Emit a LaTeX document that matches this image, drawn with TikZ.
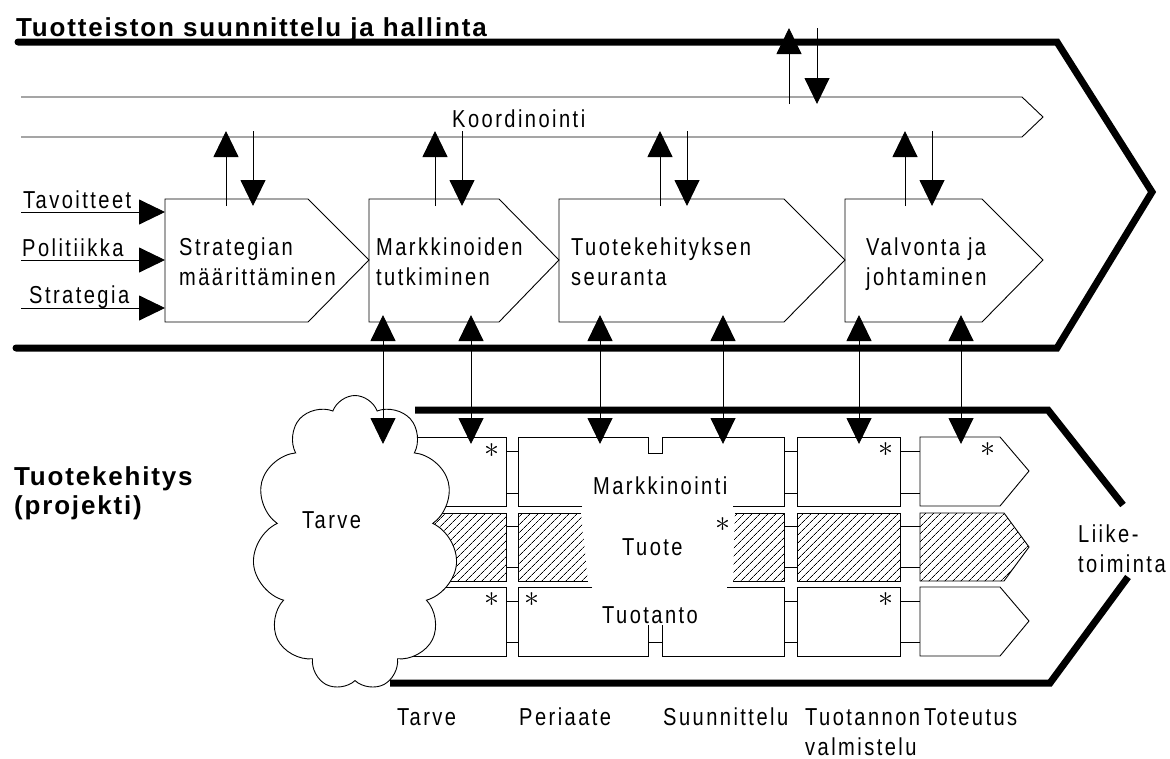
\documentclass[tikz,border=0pt]{standalone}
\usepackage{fontspec}
\setmainfont{Liberation Sans}
\newfontfamily\bodyfamily[LetterSpace=10,FakeStretch=0.82]{Liberation Sans}
\newfontfamily\headfamily[LetterSpace=7]{Liberation Sans}
\usetikzlibrary{arrows.meta,patterns.meta,shapes.symbols}
\newcommand\mytxt{\bodyfamily\fontsize{24.5}{30}\selectfont}
\newcommand\myhead{\headfamily\bfseries\fontsize{26}{29}\selectfont}
\tikzset{
  bigtri/.tip={Triangle[length=26pt,width=25pt]},
  thinl/.style={line width=0.9pt},
  outl/.style={line width=7pt,line join=miter},
  lab/.style={font=\mytxt,inner sep=0pt,anchor=base west},
  mlab/.style={font=\mytxt,inner sep=0pt,anchor=base west,align=left},
  head/.style={font=\myhead,inner sep=0pt,anchor=base west,align=left},
  hatch/.style={pattern={Lines[angle=45,distance=5.4pt,line width=0.8pt]}},
  star/.style={inner sep=0pt},
  arr/.style={thinl,-bigtri},
  darr/.style={thinl,bigtri-bigtri}
}
\begin{document}
\begin{tikzpicture}[x=1pt,y=-1pt]
\useasboundingbox (0,0) rectangle (1170,758);

% ---------- upper section ----------
\node[head] (title) at (16,36) {Tuotteiston suunnittelu ja hallinta};
\draw[outl,line cap=round] (18,42) -- (1057,42) -- (1152,192) -- (1057,348) -- (16,348);

% coordination band
\draw[thinl] (21,97) -- (1022,97) -- (1043,117) -- (1022,137) -- (21,137);
\node[lab] (koord) at (452,127) {Koordinointi};

% process boxes
\draw[thinl] (165,199) -- (308,199) -- (369,260) -- (308,322) -- (165,322) -- cycle;
\draw[thinl] (369,199) -- (499,199) -- (559,260) -- (499,322) -- (369,322) -- cycle;
\draw[thinl] (559,199) -- (784,199) -- (845,260) -- (784,322) -- (559,322) -- cycle;
\draw[thinl] (845,199) -- (982,199) -- (1043,260) -- (982,322) -- (845,322) -- cycle;
\node[mlab] (b1) at (179,285) {Strategian\\määrittäminen};
\node[mlab] (b2) at (376,285) {Markkinoiden\\tutkiminen};
\node[mlab] (b3) at (571,285) {Tuotekehityksen\\seuranta};
\node[mlab] (b4) at (866,285) {Valvonta ja\\johtaminen};

% inputs
\coordinate (in1) at (165,212); \coordinate (in2) at (165,260); \coordinate (in3) at (165,308);
\coordinate (s1) at (21,212); \coordinate (s2) at (21,260); \coordinate (s3) at (21,308);
\draw[arr] (s1) -- (in1);
\draw[arr] (s2) -- (in2);
\draw[arr] (s3) -- (in3);
\node[lab] (tav) at (23,208) {Tavoitteet};
\node[lab] (pol) at (22,256) {Politiikka};
\node[lab] (str) at (29,303) {Strategia};

% band <-> boxes arrows
\foreach \x [count=\i] in {226,435,660,905}{
  \coordinate (u\i a) at (\x,206); \coordinate (u\i b) at (\x,131);
  \coordinate (d\i a) at (\x+27,131); \coordinate (d\i b) at (\x+27,206);
  \draw[arr] (u\i a) -- (u\i b);
  \draw[arr] (d\i a) -- (d\i b);
}
% outside <-> band
\coordinate (tu1) at (789,104); \coordinate (tu2) at (789,28);
\coordinate (td1) at (817,28); \coordinate (td2) at (817,104);
\draw[arr] (tu1) -- (tu2);
\draw[arr] (td1) -- (td2);

% ---------- lower section ----------
\node[head] (tk) at (14,514) {Tuotekehitys\\(projekti)};
\draw[outl] (415,410) -- (1048,410) -- (1123,505);
\draw[outl] (1128,577) -- (1050,683) -- (390,683);
\node[mlab] (liike) at (1078,572) {Liike-\\toiminta};

% column 1
\draw[thinl,fill=white] (380,437) rectangle (506,506);
\draw[thinl,hatch] (380,513) rectangle (506,581);
\draw[thinl,fill=white] (380,587) rectangle (506,656);

% merged middle
\draw[thinl] (582,506) -- (518,506) -- (518,437) -- (648,437) -- (648,453) -- (662,453) -- (662,437) -- (784,437) -- (784,506) -- (733,506);
\fill[hatch] (518,513) -- (581,513) -- (588,581) -- (518,581) -- cycle;
\draw[thinl] (581,513) -- (518,513) -- (518,581) -- (588,581);
\fill[hatch] (735,513) -- (784,513) -- (784,581) -- (733,581) -- cycle;
\draw[thinl] (735,513) -- (784,513) -- (784,581) -- (733,581);
\draw[thinl] (592,587) -- (518,587) -- (518,656) -- (648,656) -- (648,625);
\draw[thinl] (662,625) -- (662,656) -- (784,656) -- (784,587) -- (727,587);
\draw[thinl] (648,642) -- (662,642);
\node[lab] (mark) at (593,494) {Markkinointi};
\node[lab] (tuote) at (622,555) {Tuote};
\node[lab] (tuot) at (602,623) {Tuotanto};

% column 4
\draw[thinl] (797,437) rectangle (900,506);
\draw[thinl,hatch] (797,513) rectangle (900,581);
\draw[thinl] (797,587) rectangle (900,656);
% column 5
\draw[thinl] (920,437) -- (1000,437) -- (1029,471) -- (1000,506) -- (920,506) -- cycle;
\draw[thinl,hatch] (920,513) -- (1004,513) -- (1029,547) -- (1004,581) -- (920,581) -- cycle;
\draw[thinl] (920,587) -- (1000,587) -- (1029,621) -- (1000,656) -- (920,656) -- cycle;

% stubs
\foreach \y in {451,493,526,567,601,642}{
  \draw[thinl] (506,\y) -- (518,\y);
  \draw[thinl] (784,\y) -- (797,\y);
  \draw[thinl] (900,\y) -- (920,\y);
}

% asterisks
\foreach \p in {(492,451),(492,600),(532,600),(723,525),(886,450),(988,450),(886,600)}{
  \node[star] at \p {\scalebox{3}{$\ast$}};
}

% cloud
\node[cloud,draw,fill=white,thinl,cloud puffs=11,cloud puff arc=140,cloud ignores aspect,
      minimum width=205pt,minimum height=295pt,inner sep=0pt] (cloud) at (355,543) {};
\node[lab] (tarve) at (302,528) {Tarve};

% vertical double arrows
\foreach \x [count=\i] in {383,471,600,723,859,961}{
  \coordinate (va\i) at (\x,315); \coordinate (vb\i) at (\x,444);
  \draw[darr] (va\i) -- (vb\i);
}

% phase labels
\node[lab] (p1) at (397,725) {Tarve};
\node[lab] (p2) at (519,725) {Periaate};
\node[lab] (p3) at (663,725) {Suunnittelu};
\node[mlab] (p4) at (805,755) {Tuotannon\\valmistelu};
\node[lab] (p5) at (924,725) {Toteutus};
\end{tikzpicture}
\end{document}
